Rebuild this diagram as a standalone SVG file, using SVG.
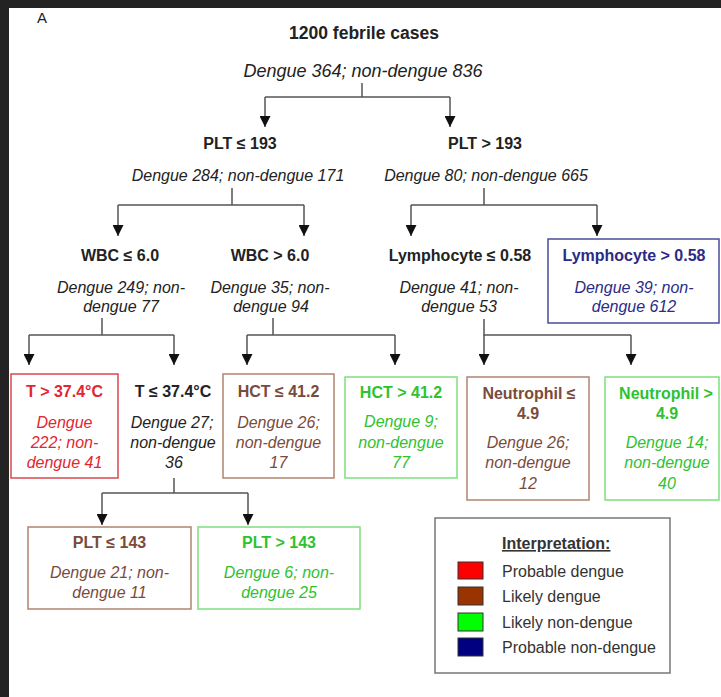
<svg xmlns="http://www.w3.org/2000/svg" width="721" height="697" viewBox="0 0 721 697">
  <defs>
    <marker id="arrow" viewBox="0 0 10 10" refX="10" refY="5" markerWidth="11" markerHeight="11" markerUnits="userSpaceOnUse" orient="auto">
      <path d="M0,0 L10,5 L0,10 Z" fill="#111"/>
    </marker>
    <style>
      text { font-family: "Liberation Sans", Arial, sans-serif; text-anchor: middle; }
      .h { font-weight: bold; font-size: 16px; }
      .i { font-style: italic; font-size: 16px; }
      .k { fill: #222; }
      .red { fill: #e3262f; }
      .brown { fill: #7a4b3c; }
      .green { fill: #2fc22f; }
      .blue { fill: #2b2b88; }
      .box { fill: #fff; stroke-width: 1.5; }
      .b-red { stroke: #d9484c; }
      .b-brown { stroke: #b08470; }
      .b-green { stroke: #7ee07e; }
      .b-blue { stroke: #4b4b9c; }
      .conn path { fill: none; stroke: #555; stroke-width: 1.5; }
      .conn .arr { marker-end: url(#arrow); }
      .leg { text-anchor: start; font-size: 16px; fill: #333; }
      .sw { stroke: #333; stroke-width: 1; }
    </style>
  </defs>

  <!-- frame -->
  <rect x="0" y="0" width="721" height="697" fill="#232323"/>
  <rect x="9" y="8" width="712" height="689" fill="#fff"/>

  <text x="37" y="23" style="text-anchor:start;font-size:15px" class="k">A</text>

  <!-- connectors -->
  <g id="connectors" class="conn">
    <path d="M362,83 V97 M265,97 H450"/>
    <path class="arr" d="M265,97 V127"/>
    <path class="arr" d="M450,97 V127"/>

    <path d="M232,188 V205 M118,205 H304"/>
    <path class="arr" d="M118,205 V236"/>
    <path class="arr" d="M304,205 V236"/>

    <path d="M484,188 V205 M411,205 H597"/>
    <path class="arr" d="M411,205 V236"/>
    <path class="arr" d="M597,205 V236"/>

    <path d="M102,318 V335 M29,335 H174"/>
    <path class="arr" d="M29,335 V365"/>
    <path class="arr" d="M174,335 V365"/>

    <path d="M273,318 V335 M247,335 H395"/>
    <path class="arr" d="M247,335 V365"/>
    <path class="arr" d="M395,335 V365"/>

    <path d="M484,319 V335 H631"/>
    <path class="arr" d="M484,335 V365"/>
    <path class="arr" d="M631,335 V365"/>

    <path d="M174,478 V493 M102,493 H248"/>
    <path class="arr" d="M102,493 V525"/>
    <path class="arr" d="M248,493 V525"/>
  </g>

  <!-- root -->
  <g id="root">
    <text x="364" y="39" class="k" style="font-weight:bold;font-size:17.5px">1200 febrile cases</text>
    <text x="363" y="77" class="k" style="font-style:italic;font-size:18px">Dengue 364; non-dengue 836</text>
  </g>

  <!-- level 1 -->
  <g id="plt-le-193">
    <text x="240" y="149" class="h k">PLT ≤ 193</text>
    <text x="238" y="181" class="i k">Dengue 284; non-dengue 171</text>
  </g>
  <g id="plt-gt-193">
    <text x="485" y="149" class="h k">PLT &gt; 193</text>
    <text x="486" y="181" class="i k">Dengue 80; non-dengue 665</text>
  </g>

  <!-- level 2 -->
  <g id="wbc-le-6">
    <text x="120" y="261" class="h k">WBC ≤ 6.0</text>
    <text x="121" y="293" class="i k">Dengue 249; non-</text>
    <text x="121" y="312" class="i k">dengue 77</text>
  </g>
  <g id="wbc-gt-6">
    <text x="270" y="261" class="h k">WBC &gt; 6.0</text>
    <text x="270" y="293" class="i k">Dengue 35; non-</text>
    <text x="271" y="312" class="i k">dengue 94</text>
  </g>
  <g id="lym-le-058">
    <text x="460" y="261" class="h k">Lymphocyte ≤ 0.58</text>
    <text x="459" y="293" class="i k">Dengue 41; non-</text>
    <text x="459" y="312" class="i k">dengue 53</text>
  </g>
  <g id="lym-gt-058">
    <rect x="548" y="239" width="171" height="84" class="box b-blue"/>
    <text x="634" y="261" class="h blue">Lymphocyte &gt; 0.58</text>
    <text x="634" y="293" class="i blue">Dengue 39; non-</text>
    <text x="634" y="312" class="i blue">dengue 612</text>
  </g>

  <!-- level 3 -->
  <g id="t-gt-374">
    <rect x="11" y="374" width="107" height="104" class="box b-red"/>
    <text x="64.5" y="397" class="h red">T &gt; 37.4°C</text>
    <text x="64.5" y="428" class="i red">Dengue</text>
    <text x="64.5" y="448" class="i red">222; non-</text>
    <text x="64.5" y="468" class="i red">dengue 41</text>
  </g>
  <g id="t-le-374">
    <text x="173" y="397" class="h k">T ≤ 37.4°C</text>
    <text x="172" y="428" class="i k">Dengue 27;</text>
    <text x="173" y="448" class="i k">non-dengue</text>
    <text x="174" y="468" class="i k">36</text>
  </g>
  <g id="hct-le-412">
    <rect x="223" y="374" width="111" height="104" class="box b-brown"/>
    <text x="278.5" y="397" class="h brown">HCT ≤ 41.2</text>
    <text x="278.5" y="428" class="i brown">Dengue 26;</text>
    <text x="278.5" y="448" class="i brown">non-dengue</text>
    <text x="278.5" y="468" class="i brown">17</text>
  </g>
  <g id="hct-gt-412">
    <rect x="345" y="377" width="112" height="101" class="box b-green"/>
    <text x="401" y="398" class="h green">HCT &gt; 41.2</text>
    <text x="401" y="427" class="i green">Dengue 9;</text>
    <text x="401" y="448" class="i green">non-dengue</text>
    <text x="401" y="468" class="i green">77</text>
  </g>
  <g id="neu-le-49">
    <rect x="467" y="377" width="122" height="123" class="box b-brown"/>
    <text x="529" y="399" class="h brown">Neutrophil ≤</text>
    <text x="528" y="419" class="h brown">4.9</text>
    <text x="528" y="448" class="i brown">Dengue 26;</text>
    <text x="528" y="468" class="i brown">non-dengue</text>
    <text x="528" y="489" class="i brown">12</text>
  </g>
  <g id="neu-gt-49">
    <rect x="605" y="377" width="114" height="123" class="box b-green"/>
    <text x="666" y="399" class="h green">Neutrophil &gt;</text>
    <text x="667" y="419" class="h green">4.9</text>
    <text x="667" y="448" class="i green">Dengue 14;</text>
    <text x="667" y="468" class="i green">non-dengue</text>
    <text x="667" y="489" class="i green">40</text>
  </g>

  <!-- level 4 -->
  <g id="plt-le-143">
    <rect x="28" y="527" width="163" height="82" class="box b-brown"/>
    <text x="109.5" y="548" class="h brown">PLT ≤ 143</text>
    <text x="109.5" y="578" class="i brown">Dengue 21; non-</text>
    <text x="109.5" y="598" class="i brown">dengue 11</text>
  </g>
  <g id="plt-gt-143">
    <rect x="198" y="527" width="162" height="82" class="box b-green"/>
    <text x="279" y="548" class="h green">PLT &gt; 143</text>
    <text x="279" y="578" class="i green">Dengue 6; non-</text>
    <text x="279" y="598" class="i green">dengue 25</text>
  </g>

  <!-- legend -->
  <g id="legend">
    <rect x="435" y="518" width="235" height="155" fill="#fff" stroke="#777" stroke-width="1.5"/>
    <text x="502" y="549" class="leg" style="font-weight:bold;text-decoration:underline">Interpretation:</text>
    <rect x="458" y="562" width="25" height="17" class="sw" fill="#ff0000"/>
    <text x="502" y="577" class="leg">Probable dengue</text>
    <rect x="458" y="587" width="25" height="18" class="sw" fill="#993300"/>
    <text x="502" y="602" class="leg">Likely dengue</text>
    <rect x="458" y="613" width="25" height="18" class="sw" fill="#00ff00"/>
    <text x="502" y="628" class="leg">Likely non-dengue</text>
    <rect x="458" y="638" width="25" height="18" class="sw" fill="#000080"/>
    <text x="502" y="653" class="leg">Probable non-dengue</text>
  </g>
</svg>
